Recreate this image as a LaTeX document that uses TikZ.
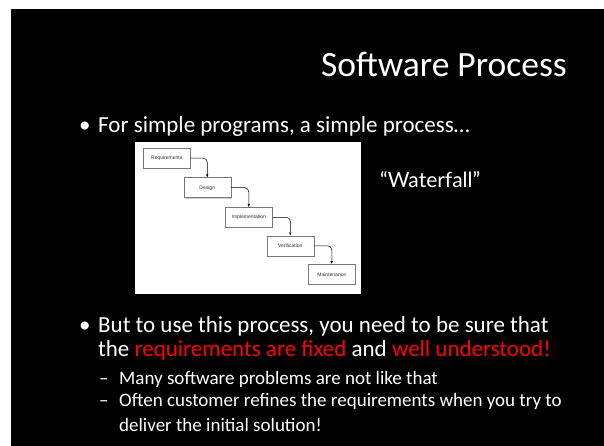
\documentclass[tikz,border=0pt]{standalone}
\usepackage{fontspec}
\setmainfont{Carlito}
\newfontfamily\quotefont{Lato}
\newfontfamily\stagefont{Liberation Sans}
\usetikzlibrary{arrows.meta, positioning, shadows}
\definecolor{slidered}{RGB}{255,0,0}
\definecolor{stagegray}{RGB}{120,120,120}
\tikzset{
    stage/.style={draw=stagegray, line width=0.5pt, fill=white, minimum width=47pt, minimum height=20pt,
      inner sep=0pt, font=\stagefont\fontsize{5}{6}\selectfont, text=black!80,
      drop shadow={opacity=0.35, shadow xshift=0.8pt, shadow yshift=-0.8pt}},
    flow/.style={-{Latex[length=3pt, width=2.5pt]}, line width=0.5pt, rounded corners=4pt},
    bodytext/.style={anchor=base west, inner sep=0pt, text=white},
    levelone/.style={bodytext, font=\fontsize{23}{27}\selectfont},
    leveltwo/.style={bodytext, font=\fontsize{19}{23}\selectfont},
}

\begin{document}
\begin{tikzpicture}[x=1pt, y=-1pt]
    \useasboundingbox (0,0) rectangle (604,446);
    \fill[white] (0,0) rectangle (604,446);
    \fill[black] (11,9) rectangle (604,446);

    % title
    \node[anchor=base east, inner sep=0pt, text=white, font=\fontsize{35.5}{42}\selectfont] (title) at (567,77) {Software Process};

    % first bullet
    \node[levelone] (dotA) at (79,133) {•};
    \node[levelone] (simple) at (98,133) {For simple programs, a simple process…};

    % waterfall picture
    \fill[white] (135,142) rectangle (361,294);
    \node[stage, anchor=north west] (req) at (143,148) {Requirements};
    \node[stage, below right=9pt and -7pt of req] (des) {Design};
    \node[stage, below right=9pt and -6pt of des] (imp) {Implementation};
    \node[stage, below right=8pt and -6pt of imp] (ver) {Verification};
    \node[stage, below right=8pt and -6pt of ver] (mai) {Maintenance};
    \foreach \a/\b in {req/des, des/imp, imp/ver, ver/mai}
      \draw[flow] (\a.east) -| (\b.north);

    \node[bodytext, font=\quotefont\fontsize{21}{25}\selectfont] (waterfall) at (380,188) {“Waterfall”};

    % second bullet
    \node[levelone] (dotB) at (79,332) {•};
    \node[levelone] (sure) at (98,332) {But to use this process, you need to be sure that};
    \node[levelone] (fixed) at (98,356) {the \textcolor{slidered}{requirements are fixed} and \textcolor{slidered}{well understood!}};

    \node[leveltwo] (dashA) at (99,384) {–};
    \node[leveltwo] (many) at (119,384) {Many software problems are not like that};
    \node[leveltwo] (dashB) at (99,406) {–};
    \node[leveltwo] (often) at (119,406) {Often customer refines the requirements when you try to};
    \node[leveltwo] (deliver) at (119,431) {deliver the initial solution!};
\end{tikzpicture}
\end{document}
